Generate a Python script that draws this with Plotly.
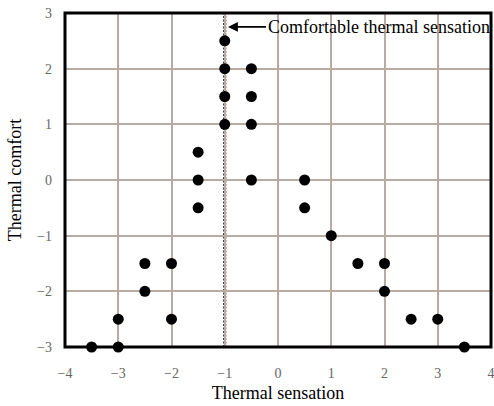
import plotly.graph_objects as go

# Thermal sensation vs thermal comfort votes
sensation = [-1, -1, -1, -1, -0.5, -0.5, -0.5, -1.5, -1.5, -1.5, -0.5, 0.5, 0.5,
             1, 1.5, 2, 2, 2.5, 3, 3.5, -2.5, -2, -2.5, -3, -2, -3.5, -3]
comfort = [2.5, 2, 1.5, 1, 2, 1.5, 1, 0.5, 0, -0.5, 0, 0, -0.5,
           -1, -1.5, -1.5, -2, -2.5, -2.5, -3, -1.5, -1.5, -2, -2.5, -2.5, -3, -3]
tick_vals_x = [-4, -3, -2, -1, 0, 1, 2, 3, 4]
tick_vals_y = [-3, -2, -1, 0, 1, 2, 3]
comfortable_x = -1
note_text = "Comfortable thermal sensation"

serif = "Liberation Serif"
grid_color = "#b9aaa3"

fig = go.Figure()

fig.add_trace(go.Scatter(
    x=sensation, y=comfort, mode="markers",
    marker=dict(color="black", size=11),
    cliponaxis=False, showlegend=False,
))

# dotted reference line at the comfortable sensation
fig.add_shape(type="line", xref="x", yref="y",
              x0=comfortable_x, x1=comfortable_x, y0=-3, y1=3,
              line=dict(color="black", width=3, dash="2px,1.5px"), layer="below")

# heavy frame around the plotting area
fig.add_shape(type="rect", xref="paper", yref="paper", x0=0, x1=1, y0=0, y1=1,
              line=dict(color="black", width=3), layer="above")

fig.add_annotation(
    x=comfortable_x + 0.06, y=2.75, xref="x", yref="y",
    ax=38, ay=0, axref="pixel", ayref="pixel",
    text=note_text, showarrow=True, arrowhead=2, arrowsize=1.1,
    arrowwidth=1.8, arrowcolor="black", xanchor="left",
    font=dict(family=serif, size=18, color="black"),
)

axis_common = dict(
    showgrid=True, gridcolor=grid_color, gridwidth=1.5,
    zeroline=False, showline=False, ticks="",
    tickfont=dict(family=serif, size=14, color="#666666"),
    ticklabeloverflow="allow", automargin=False,
)

fig.update_xaxes(range=[-4, 4], tickvals=tick_vals_x, ticklabelstandoff=16,
                 title=dict(text="Thermal sensation", standoff=6,
                            font=dict(family=serif, size=18, color="black")),
                 **axis_common)
fig.update_yaxes(range=[-3, 3], tickvals=tick_vals_y, ticklabelstandoff=12,
                 title=dict(text="Thermal comfort", standoff=10,
                            font=dict(family=serif, size=18, color="black")),
                 **axis_common)

fig.update_layout(
    width=494, height=406,
    margin=dict(l=65, r=3, t=13, b=59),
    paper_bgcolor="white", plot_bgcolor="white",
)

fig.write_html("out.html")
